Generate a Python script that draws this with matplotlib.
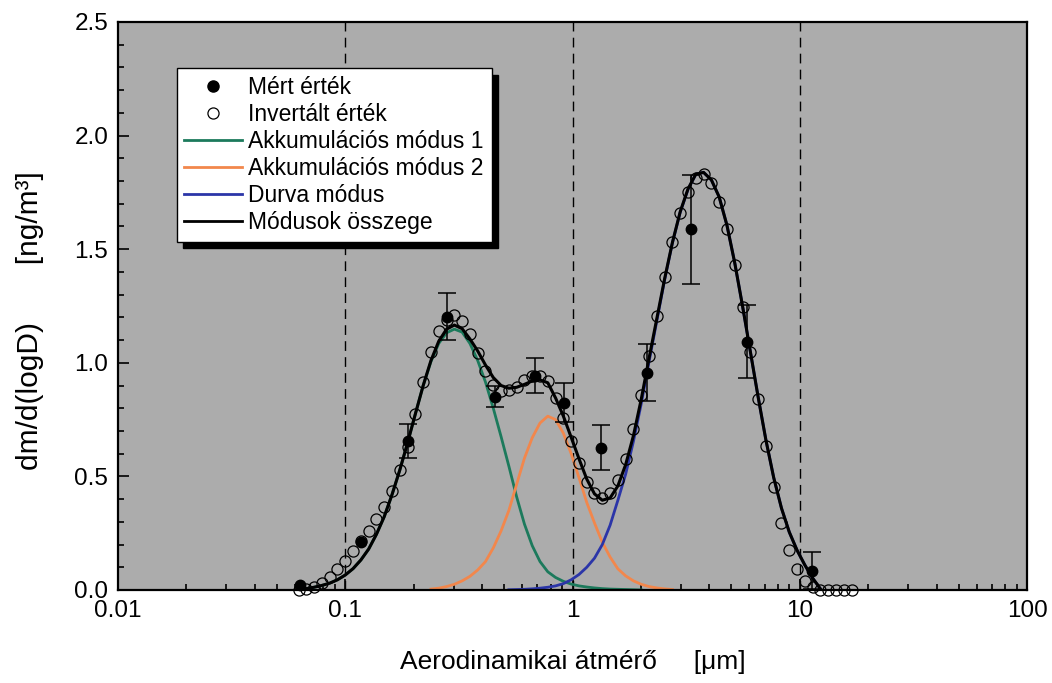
import numpy as np
import matplotlib
matplotlib.use("Agg")
import matplotlib.pyplot as plt
from matplotlib.lines import Line2D
from matplotlib.ticker import FixedLocator, FuncFormatter, MultipleLocator, FormatStrFormatter

plt.rcParams['font.family'] = ['Liberation Sans', 'DejaVu Sans']

# ── Data ──────────────────────────────────────────────────────────────────────
# inverted values (open circles): diameter [um] and dm/dlogD [ng/m3]
inv_d = [0.0623, 0.0674, 0.0729, 0.0789, 0.0854, 0.0924, 0.1000, 0.1082, 0.1171, 0.1267,
         0.1371, 0.1484, 0.1606, 0.1737, 0.1880, 0.2034, 0.2202, 0.2382, 0.2578, 0.2790,
         0.3019, 0.3266, 0.3535, 0.3825, 0.4139, 0.4479, 0.4847, 0.5245, 0.5675, 0.6142,
         0.6646, 0.7192, 0.7782, 0.8421, 0.9113, 0.9861, 1.067, 1.155, 1.249, 1.352,
         1.463, 1.583, 1.713, 1.854, 2.006, 2.171, 2.349, 2.542, 2.751, 2.977,
         3.221, 3.486, 3.772, 4.082, 4.417, 4.780, 5.172, 5.597, 6.057, 6.554,
         7.093, 7.674, 8.305, 8.987, 9.725, 10.52, 11.39, 12.32, 13.34, 14.43,
         15.61, 16.90]
inv_y = [0.0, 0.004, 0.012, 0.032, 0.059, 0.091, 0.128, 0.173, 0.215, 0.261,
         0.311, 0.364, 0.437, 0.528, 0.630, 0.775, 0.917, 1.049, 1.141, 1.190,
         1.210, 1.185, 1.125, 1.045, 0.965, 0.902, 0.877, 0.880, 0.895, 0.925,
         0.940, 0.940, 0.918, 0.844, 0.758, 0.656, 0.558, 0.477, 0.426, 0.404,
         0.426, 0.484, 0.576, 0.708, 0.860, 1.031, 1.208, 1.379, 1.533, 1.661,
         1.753, 1.812, 1.830, 1.790, 1.709, 1.588, 1.430, 1.245, 1.046, 0.839,
         0.635, 0.452, 0.294, 0.176, 0.091, 0.038, 0.015, 0.0, 0.0, 0.0,
         0.0, 0.0]

# measured values (filled circles) with error bars
meas_d = [0.0634, 0.117, 0.189, 0.281, 0.455, 0.687, 0.919, 1.328, 2.118, 3.31, 5.885, 11.26]
meas_y = [0.022, 0.21, 0.656, 1.203, 0.851, 0.943, 0.824, 0.626, 0.957, 1.588, 1.093, 0.085]
meas_err = [0, 0, 0.074, 0.103, 0.045, 0.078, 0.085, 0.10, 0.125, 0.24, 0.16, 0.08]

# fitted curves, sampled on the inverted-value grid (index ranges below)
acc1_y = [0.002, 0.006, 0.012, 0.020, 0.030, 0.045, 0.066, 0.094, 0.132, 0.180,
          0.245, 0.323, 0.420, 0.528, 0.648, 0.775, 0.900, 1.005, 1.085, 1.132,
          1.148, 1.135, 1.085, 1.010, 0.915, 0.800, 0.675, 0.545, 0.410, 0.290,
          0.195, 0.125, 0.080, 0.055, 0.038, 0.026, 0.018, 0.013, 0.009, 0.006,
          0.004, 0.003, 0.002, 0.001, 0.0]                       # grid 0..44
acc2_y = [0.004, 0.008, 0.015, 0.025, 0.040, 0.060, 0.088, 0.125, 0.185, 0.260,
          0.350, 0.465, 0.580, 0.670, 0.735, 0.765, 0.750, 0.690, 0.600, 0.495,
          0.385, 0.295, 0.210, 0.145, 0.093, 0.062, 0.040, 0.025, 0.015, 0.009,
          0.005, 0.002]                                          # grid 17..48
coarse_y = [0.001, 0.002, 0.003, 0.005, 0.008, 0.012, 0.018, 0.028, 0.045, 0.068,
            0.100, 0.140, 0.200, 0.285, 0.395, 0.510, 0.655, 0.820, 1.005, 1.185,
            1.365, 1.528, 1.663, 1.763, 1.830, 1.838, 1.805, 1.730, 1.605, 1.440,
            1.250, 1.050, 0.850, 0.660, 0.495, 0.360, 0.255, 0.175, 0.110, 0.052,
            0.005]                                               # grid 27..67
sum_y = [0.002, 0.006, 0.012, 0.020, 0.030, 0.045, 0.066, 0.094, 0.132, 0.180,
         0.245, 0.323, 0.420, 0.528, 0.648, 0.775, 0.900, 1.010, 1.095, 1.148,
         1.166, 1.150, 1.105, 1.052, 0.990, 0.935, 0.900, 0.888, 0.892, 0.905,
         0.920, 0.925, 0.912, 0.845, 0.765, 0.672, 0.578, 0.488, 0.423, 0.395,
         0.405, 0.458, 0.552, 0.680, 0.840, 1.020, 1.195, 1.370, 1.530, 1.665,
         1.765, 1.830, 1.838, 1.805, 1.730, 1.605, 1.440, 1.250, 1.050, 0.850,
         0.660, 0.495, 0.360, 0.255, 0.175, 0.110, 0.052, 0.005]  # grid 0..67

x_ticks = [0.01, 0.1, 1, 10, 100]
x_ticklabels = ["0.01", "0.1", "1", "10", "100"]
guide_lines = [0.1, 1, 10]

labels = ["Mért érték", "Invertált érték", "Akkumulációs módus 1",
          "Akkumulációs módus 2", "Durva módus", "Módusok összege"]

# ── Styling ──────────────────────────────────────────────────────────────────
c_acc1 = '#1c7a5c'
c_acc2 = '#f2874c'
c_coarse = '#2b35a8'
c_face = '#acacac'

fig = plt.figure(figsize=(10.52, 6.83), dpi=100)
ax = fig.add_axes([0.1122, 0.1362, 0.8641, 0.8316])
ax.set_facecolor(c_face)

grid = np.array(inv_d)

for xv in guide_lines:
    ax.axvline(xv, color='black', lw=1.0, dashes=(7, 4.5), zorder=1)

ax.plot(grid[0:45], acc1_y, color=c_acc1, lw=2.0, zorder=2)
ax.plot(grid[17:49], acc2_y, color=c_acc2, lw=2.0, zorder=2)
ax.plot(grid[27:68], coarse_y, color=c_coarse, lw=2.0, zorder=2)
ax.plot(grid[0:68], sum_y, color='black', lw=2.2, zorder=3)

ax.plot(inv_d, inv_y, 'o', ms=8, mfc='none', mec='black', mew=0.9,
        zorder=4, clip_on=False)

md = np.array(meas_d)
my = np.array(meas_y)
me = np.array(meas_err)
has_err = me > 0
ax.errorbar(md[has_err], my[has_err], yerr=me[has_err], fmt='none', ecolor='black',
            elinewidth=1.1, capsize=6.5, capthick=1.1, zorder=5)
ax.plot(md, my, 'o', ms=7.5, color='black', zorder=6, clip_on=False)

# ── Axes ─────────────────────────────────────────────────────────────────────
ax.set_xscale('log')
ax.set_xlim(0.01, 100)
ax.set_ylim(0, 2.5)
ax.xaxis.set_major_locator(FixedLocator(x_ticks))
ax.xaxis.set_major_formatter(FuncFormatter(lambda v, p: x_ticklabels[x_ticks.index(v)]
                                           if v in x_ticks else ""))
ax.yaxis.set_major_locator(MultipleLocator(0.5))
ax.yaxis.set_minor_locator(MultipleLocator(0.1))
ax.yaxis.set_major_formatter(FormatStrFormatter('%.1f'))

ax.tick_params(which='both', direction='in', top=False, right=False, width=1.2,
               labelsize=17.5, pad=7)
ax.tick_params(which='major', length=8)
ax.tick_params(which='minor', length=4.5)
ax.xaxis.set_tick_params(which='minor', labelbottom=False)
for sp in ax.spines.values():
    sp.set_linewidth(1.6)

ax.set_xlabel("Aerodinamikai átmérő     [μm]", fontsize=19)
ax.set_ylabel("dm/d(logD)       [ng/m³]", fontsize=21.5)
ax.xaxis.set_label_coords(0.5, -0.105)
ax.yaxis.set_label_coords(-0.081, 0.474)

# ── Legend ───────────────────────────────────────────────────────────────────
handles = [
    Line2D([], [], ls='none', marker='o', ms=8, color='black'),
    Line2D([], [], ls='none', marker='o', ms=8, mfc='none', mec='black', mew=0.9),
    Line2D([], [], color=c_acc1, lw=2),
    Line2D([], [], color=c_acc2, lw=2),
    Line2D([], [], color=c_coarse, lw=2),
    Line2D([], [], color='black', lw=2),
]
leg = ax.legend(handles, labels, loc='upper left', bbox_to_anchor=(0.0646, 0.9185),
                borderaxespad=0, fontsize=16.5, handlelength=2.5, handletextpad=0.3,
                labelspacing=0.18, borderpad=0.33, fancybox=False, framealpha=1,
                edgecolor='black', facecolor='white',
                shadow={'ox': 4.5, 'oy': -4.5, 'facecolor': 'black',
                        'edgecolor': 'black', 'alpha': 1})
leg.get_frame().set_linewidth(1.0)
leg.set_zorder(10)

fig.savefig('out.png', dpi=100, facecolor='white')
